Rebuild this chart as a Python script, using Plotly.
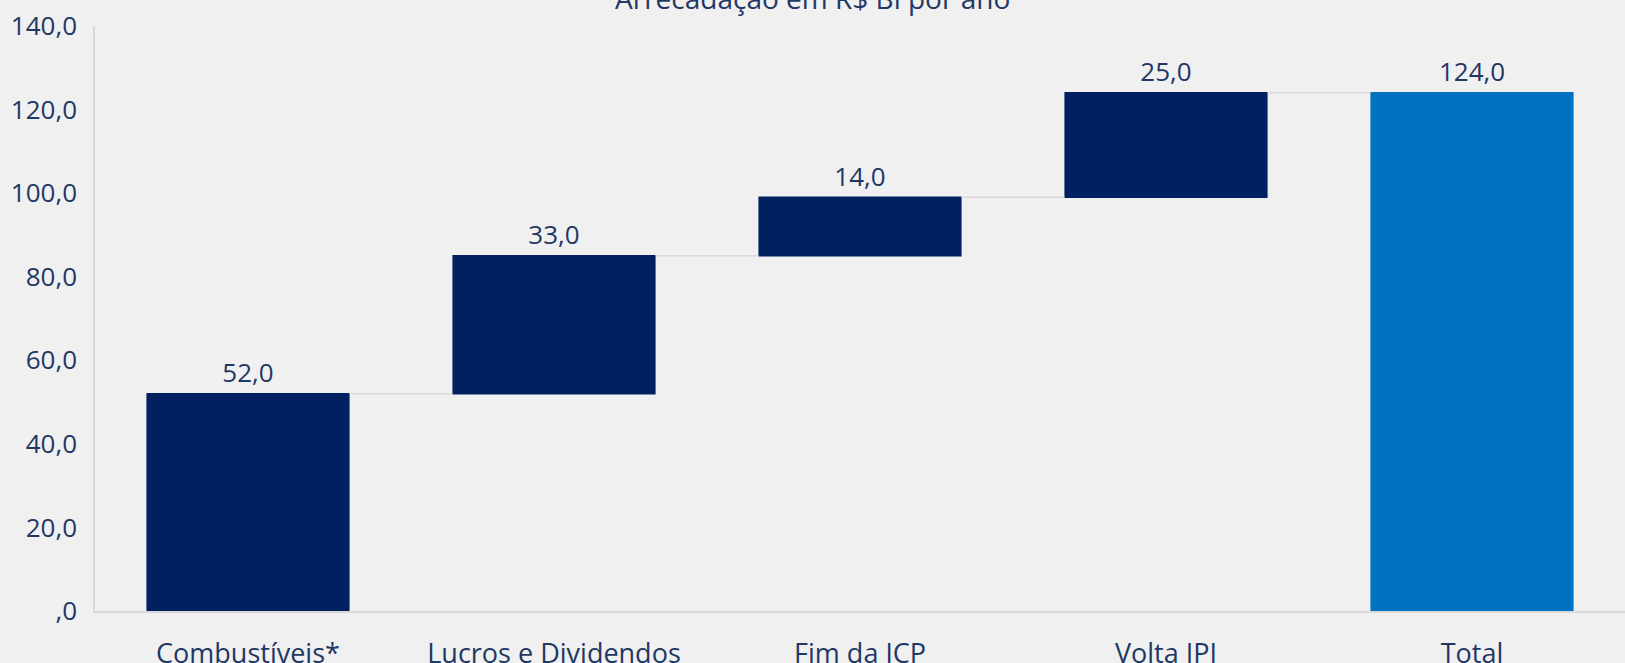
import plotly.graph_objects as go

categories = ["Combustíveis*", "Lucros e Dividendos", "Fim da JCP", "Volta IPI", "Total"]
values = [52.0, 33.0, 14.0, 25.0, 124.0]
measures = ["relative", "relative", "relative", "relative", "total"]
tick_vals = [0, 20, 40, 60, 80, 100, 120, 140]
tick_text = [",0", "20,0", "40,0", "60,0", "80,0", "100,0", "120,0", "140,0"]
title_text = "Arrecadação em R$ Bi por ano"

labels = [f"{v:.1f}".replace(".", ",") for v in values]

navy = "#002060"
blue = "#0070C0"
txt = "#1F3864"
font_family = "Open Sans, Noto Sans, sans-serif"

fig = go.Figure(go.Waterfall(
    x=categories,
    y=values,
    measure=measures,
    text=labels,
    textposition="outside",
    textfont=dict(size=26, color=txt, family=font_family),
    increasing=dict(marker=dict(color=navy)),
    decreasing=dict(marker=dict(color=navy)),
    totals=dict(marker=dict(color=blue)),
    connector=dict(line=dict(color="#D9D9D9", width=1.5)),
    width=0.664,
    cliponaxis=False,
))

fig.update_layout(
    width=1625, height=663,
    paper_bgcolor="#F0F0F0", plot_bgcolor="#F0F0F0",
    margin=dict(l=95, r=0, t=26, b=52),
    showlegend=False,
    separators=",.",
    font=dict(family=font_family, color=txt, size=26),
    xaxis=dict(showline=True, linecolor="#D9D9D9", linewidth=1.5, ticks="",
               tickfont=dict(size=27, color=txt), showgrid=False,
               automargin=False, ticklabelstandoff=18),
    yaxis=dict(range=[0, 140], tickvals=tick_vals, ticktext=tick_text,
               showline=True, linecolor="#D9D9D9", linewidth=1.5, showgrid=False,
               zeroline=False, tickfont=dict(size=26, color=txt), ticks="",
               ticklabelstandoff=11, automargin=False),
    annotations=[dict(text=title_text, xref="paper", yref="paper", x=0.469, y=1.0,
                      xanchor="center", yanchor="bottom", yshift=7, showarrow=False,
                      font=dict(size=28, color=txt, family=font_family))],
)

fig.write_html(
    "out.html",
    config={"displayModeBar": False},
    post_script="document.body.style.margin='0';document.body.style.overflow='hidden';"
                "document.body.style.background='#F0F0F0';",
)
